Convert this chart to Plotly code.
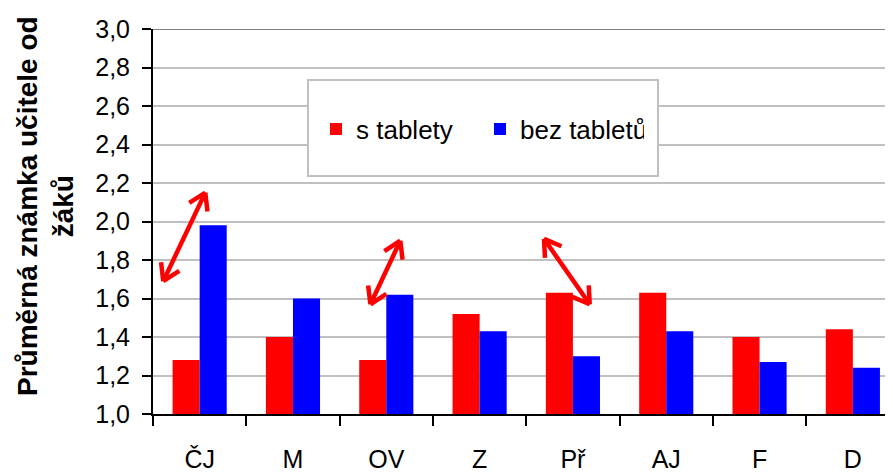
import math
import plotly.graph_objects as go

categories = ["ČJ", "M", "OV", "Z", "Př", "AJ", "F", "D"]
s_tablety = [1.28, 1.40, 1.28, 1.52, 1.63, 1.63, 1.40, 1.44]
bez_tabletu = [1.98, 1.60, 1.62, 1.43, 1.30, 1.43, 1.27, 1.24]
y_ticks = [1.0, 1.2, 1.4, 1.6, 1.8, 2.0, 2.2, 2.4, 2.6, 2.8, 3.0]
series_names = ["s tablety", "bez tabletů"]
y_title = "Průměrná známka učitele od<br>žáků"

# decorative double arrows: (x_tail, y_tail, x_head, y_head) in category/value units
arrows = [
    (-0.39, 1.69, 0.06, 2.15),
    (1.83, 1.57, 2.15, 1.90),
    (3.69, 1.91, 4.18, 1.57),
]

FONT = "Liberation Sans, Arial, sans-serif"

# page body has an 8px margin; figure is sized so the plot area lands where it should
W, H = 885, 464
L, R, T, B = 145, 0, 21, 58
pw = W - L - R
ph = H - T - B
XR = [-0.5, 7.43]
YR = [1.0, 3.0]

def px_x(px):  # absolute page px -> paper
    return (px - 8 - L) / pw

def px_y(py):
    return (H - B - (py - 8)) / ph

def d2p(x, y):  # data -> plot px
    return ((x - XR[0]) / (XR[1] - XR[0]) * pw, (YR[1] - y) / (YR[1] - YR[0]) * ph)

def p2d(px, py):
    return (XR[0] + px / pw * (XR[1] - XR[0]), YR[1] - py / ph * (YR[1] - YR[0]))

fig = go.Figure()
fig.add_trace(go.Bar(x=categories, y=s_tablety, name=series_names[0],
                     marker=dict(color="#FF0000", line=dict(width=0))))
fig.add_trace(go.Bar(x=categories, y=bez_tabletu, name=series_names[1],
                     marker=dict(color="#0000FF", line=dict(width=0))))

shapes = [
    dict(type="rect", xref="paper", yref="paper",
         x0=px_x(308), x1=px_x(658), y0=px_y(176), y1=px_y(80),
         fillcolor="white", line=dict(color="#c0c0c0", width=2), layer="above"),
    dict(type="line", xref="paper", yref="y", x0=0, x1=1, y0=3.0, y1=3.0,
         line=dict(color="#808080", width=2), layer="below"),
]

ARM = 19
ANG = math.radians(32)
for (xt, yt, xh, yh) in arrows:
    line = dict(color="#FF0000", width=4.5)
    shapes.append(dict(type="line", xref="x", yref="y", x0=xt, y0=yt, x1=xh, y1=yh,
                       line=line, layer="above"))
    for (ex, ey, ox, oy) in [(xh, yh, xt, yt), (xt, yt, xh, yh)]:
        epx, epy = d2p(ex, ey)
        opx, opy = d2p(ox, oy)
        a = math.atan2(opy - epy, opx - epx)
        for s in (-1, 1):
            qx = epx + ARM * math.cos(a + s * ANG)
            qy = epy + ARM * math.sin(a + s * ANG)
            dx, dy = p2d(qx, qy)
            shapes.append(dict(type="line", xref="x", yref="y", x0=ex, y0=ey,
                               x1=dx, y1=dy, line=line, layer="above"))

annotations = [
    dict(text=y_title, xref="paper", yref="paper", x=px_x(45), y=px_y(206),
         xanchor="center", yanchor="middle", textangle=-90, showarrow=False,
         align="center", font=dict(family=FONT, size=28, color="black", weight="bold")),
]

fig.update_layout(
    width=W, height=H,
    margin=dict(l=L, r=R, t=T, b=B, pad=0),
    paper_bgcolor="white", plot_bgcolor="white",
    barmode="group", bargap=0.42, bargroupgap=0,
    font=dict(family=FONT, size=25, color="black"),
    showlegend=True,
    legend=dict(orientation="h", x=px_x(316), y=px_y(129), xanchor="left",
                yanchor="middle", bgcolor="rgba(0,0,0,0)", borderwidth=0,
                font=dict(family=FONT, size=26, color="black"),
                entrywidth=119, itemwidth=30, traceorder="normal"),
    shapes=shapes,
    annotations=annotations,
)

fig.update_xaxes(
    type="category", range=XR,
    showline=True, linecolor="black", linewidth=2,
    ticks="outside", ticklen=10, tickwidth=2, tickcolor="black",
    tickson="boundaries", showgrid=False, zeroline=False,
    ticklabelstandoff=22,
    tickfont=dict(family=FONT, size=25, color="black"),
)
fig.update_yaxes(
    range=YR, tickmode="array", tickvals=y_ticks,
    ticktext=[f"{v:.1f}".replace(".", ",") for v in y_ticks],
    showline=True, linecolor="black", linewidth=2,
    ticks="outside", ticklen=9, tickwidth=2, tickcolor="black",
    showgrid=True, gridcolor="#c0c0c0", gridwidth=2, zeroline=False,
    ticklabelstandoff=7,
    tickfont=dict(family=FONT, size=25, color="black"),
)

fig.write_html("out.html")
